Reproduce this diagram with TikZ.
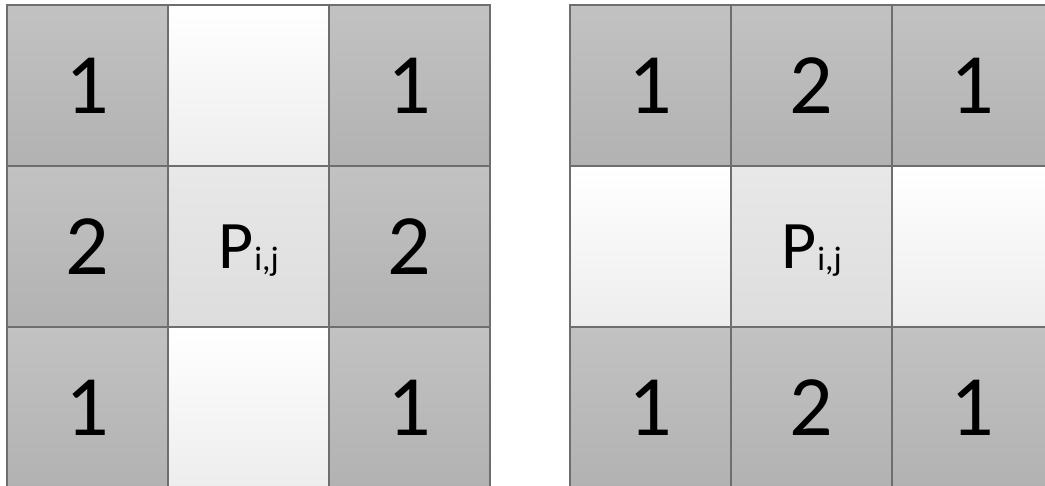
\documentclass[tikz,border=0pt]{standalone}
\usepackage{fontspec}
\setmainfont{Carlito}
\definecolor{edge}{HTML}{6E6E6E}
\definecolor{darktop}{HTML}{C2C2C2}
\definecolor{darkbot}{HTML}{B2B2B2}
\definecolor{lighttop}{HTML}{FFFFFF}
\definecolor{lightbot}{HTML}{EDEDED}
\definecolor{midtop}{HTML}{E8E8E8}
\definecolor{midbot}{HTML}{DDDDDD}
\tikzset{
  cell/.style={draw=edge, line width=1.4pt, minimum width=161pt, minimum height=161pt, inner sep=0pt, outer sep=0pt},
  darkcell/.style={cell, top color=darktop, bottom color=darkbot, font=\fontsize{86}{86}\selectfont},
  lightcell/.style={cell, top color=lighttop, bottom color=lightbot},
  midcell/.style={cell, top color=midtop, bottom color=midbot, text height=44pt, text depth=0pt, font=\fontsize{68}{68}\selectfont}
}
\newcommand{\pij}{P\kern1pt\raisebox{-2pt}{\fontsize{34}{34}\selectfont i,j}}
\begin{document}
\begin{tikzpicture}[x=1pt,y=-1pt]
\useasboundingbox (0,0) rectangle (1045,485);
\clip (0,0) rectangle (1045,485);
\fill[white] (0,0) rectangle (1045,485);
% left grid
\node[darkcell]  (L11) at (87.5,85.5)  {1};
\node[lightcell] (L12) at (248.5,85.5) {};
\node[darkcell]  (L13) at (409.5,85.5) {1};
\node[darkcell]  (L21) at (87.5,246.5)  {2};
\node[midcell]   (L22) at (248.5,246.5) {\pij};
\node[darkcell]  (L23) at (409.5,246.5) {2};
\node[darkcell]  (L31) at (87.5,407.5)  {1};
\node[lightcell] (L32) at (248.5,407.5) {};
\node[darkcell]  (L33) at (409.5,407.5) {1};
% right grid
\node[darkcell]  (R11) at (650.5,85.5)  {1};
\node[darkcell]  (R12) at (811.5,85.5)  {2};
\node[darkcell]  (R13) at (972.5,85.5)  {1};
\node[lightcell] (R21) at (650.5,246.5) {};
\node[midcell]   (R22) at (811.5,246.5) {\pij};
\node[lightcell] (R23) at (972.5,246.5) {};
\node[darkcell]  (R31) at (650.5,407.5)  {1};
\node[darkcell]  (R32) at (811.5,407.5)  {2};
\node[darkcell]  (R33) at (972.5,407.5)  {1};
\end{tikzpicture}
\end{document}
